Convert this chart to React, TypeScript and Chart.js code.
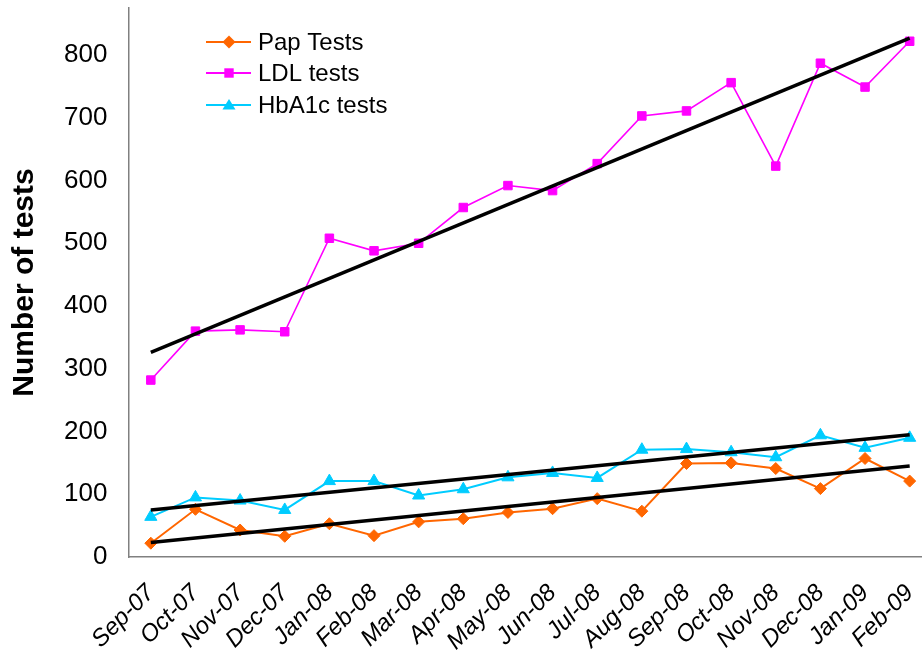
import React, { useEffect, useRef } from 'react';
import { Chart, registerables } from 'chart.js';

Chart.register(...registerables);

const months = ['Sep-07', 'Oct-07', 'Nov-07', 'Dec-07', 'Jan-08', 'Feb-08', 'Mar-08', 'Apr-08', 'May-08', 'Jun-08', 'Jul-08', 'Aug-08', 'Sep-08', 'Oct-08', 'Nov-08', 'Dec-08', 'Jan-09', 'Feb-09'];
const papTests = [22, 76, 43, 33, 53, 34, 56, 61, 71, 77, 93, 73, 149, 150, 141, 109, 157, 121];
const ldlTests = [282, 360, 362, 359, 508, 488, 500, 557, 592, 584, 627, 703, 711, 756, 623, 787, 749, 822];
const hba1cTests = [64, 95, 90, 75, 121, 121, 98, 108, 127, 134, 126, 171, 172, 167, 159, 194, 174, 190];
// linear trend lines: value at first and last month
const papTrend = [23, 145];
const ldlTrend = [326, 827];
const hba1cTrend = [75, 195];
const yTicks = [0, 100, 200, 300, 400, 500, 600, 700, 800];

const FONT = '"Liberation Sans", Arial, sans-serif';

const seriesStyles = [
  { label: 'Pap Tests', color: '#FF6600', shape: 'diamond' },
  { label: 'LDL tests', color: '#FF00FF', shape: 'square' },
  { label: 'HbA1c tests', color: '#00CCFF', shape: 'triangle' },
];

function drawMarker(ctx: CanvasRenderingContext2D, shape: string, x: number, y: number) {
  ctx.beginPath();
  if (shape === 'diamond') {
    const r = 6.5;
    ctx.moveTo(x - r, y); ctx.lineTo(x, y - r); ctx.lineTo(x + r, y); ctx.lineTo(x, y + r);
  } else if (shape === 'square') {
    const s = 4.7;
    ctx.rect(x - s, y - s, 2 * s, 2 * s);
  } else {
    const r = 7.5;
    ctx.moveTo(x, y - r * 0.8); ctx.lineTo(x + r * 0.87, y + r * 0.6); ctx.lineTo(x - r * 0.87, y + r * 0.6);
  }
  ctx.closePath();
  ctx.fill();
}

const legendPlugin = {
  id: 'insideLegend',
  afterDraw(chart: any) {
    const ctx = chart.ctx as CanvasRenderingContext2D;
    ctx.save();
    const rows = [42, 73, 105];
    seriesStyles.forEach((s, i) => {
      const y = rows[i];
      ctx.strokeStyle = s.color;
      ctx.fillStyle = s.color;
      ctx.lineWidth = 2;
      ctx.beginPath();
      ctx.moveTo(206, y);
      ctx.lineTo(251, y);
      ctx.stroke();
      drawMarker(ctx, s.shape, 229, y);
      ctx.fillStyle = '#000';
      ctx.font = `24px ${FONT}`;
      ctx.textBaseline = 'middle';
      ctx.textAlign = 'left';
      ctx.fillText(s.label, 258, y + 1);
    });
    ctx.restore();
  },
};

export default function App() {
  const ref = useRef<HTMLCanvasElement | null>(null);

  useEffect(() => {
    if (!ref.current) return;
    const first = months[0];
    const last = months[months.length - 1];
    const trend = (vals: number[]) => ({
      type: 'line' as const,
      data: [{ x: first, y: vals[0] }, { x: last, y: vals[1] }],
      borderColor: '#000',
      borderWidth: 3.5,
      pointRadius: 0,
      pointHoverRadius: 0,
      order: 0,
    });
    const chart = new Chart(ref.current, {
      type: 'line',
      data: {
        labels: months,
        datasets: [
          trend(ldlTrend),
          trend(hba1cTrend),
          trend(papTrend),
          {
            label: seriesStyles[0].label,
            data: papTests,
            borderColor: seriesStyles[0].color,
            backgroundColor: seriesStyles[0].color,
            borderWidth: 2,
            pointStyle: 'rectRot',
            pointRadius: 6,
            pointBorderWidth: 1,
            order: 1,
          },
          {
            label: seriesStyles[1].label,
            data: ldlTests,
            borderColor: seriesStyles[1].color,
            backgroundColor: seriesStyles[1].color,
            borderWidth: 1.6,
            pointStyle: 'rect',
            pointRadius: 6,
            pointBorderWidth: 1,
            order: 1,
          },
          {
            label: seriesStyles[2].label,
            data: hba1cTests,
            borderColor: seriesStyles[2].color,
            backgroundColor: seriesStyles[2].color,
            borderWidth: 2,
            pointStyle: 'triangle',
            pointRadius: 7,
            pointBorderWidth: 1,
            order: 1,
          },
        ],
      },
      options: {
        responsive: false,
        animation: false,
        events: [],
        layout: { padding: { top: 6, right: 7, left: 0, bottom: 0 } },
        plugins: {
          legend: { display: false },
          tooltip: { enabled: false },
          title: { display: false },
        },
        scales: {
          x: {
            type: 'category',
            offset: true,
            grid: { display: false, drawTicks: false },
            border: { display: true, color: '#808080', width: 1.5 },
            ticks: {
              autoSkip: false,
              maxRotation: 45,
              minRotation: 45,
              padding: 22,
              color: '#000',
              font: { family: FONT, size: 24, style: 'italic' },
            },
            afterFit: (s: any) => {
              s.height = 95;
              s.paddingLeft = 0;
              s.paddingRight = 0;
              s.paddingTop = 0;
              s.paddingBottom = 0;
            },
          },
          y: {
            min: 0,
            max: 875,
            grid: { display: false, drawTicks: false },
            border: { display: true, color: '#808080', width: 1.5 },
            afterBuildTicks: (s: any) => { s.ticks = yTicks.map((v) => ({ value: v })); },
            ticks: {
              padding: 21,
              color: '#000',
              font: { family: FONT, size: 26 },
            },
            title: {
              display: true,
              text: 'Number of tests',
              color: '#000',
              font: { family: FONT, size: 30, weight: 'bold' },
              padding: { top: 7, bottom: 0 },
            },
            afterFit: (s: any) => {
              s.width = 128.5;
              s.paddingTop = 0;
              s.paddingBottom = 0;
              s.paddingLeft = 0;
              s.paddingRight = 0;
            },
          },
        },
      },
      plugins: [legendPlugin],
    });
    return () => chart.destroy();
  }, []);

  return (
    <div style={{ position: 'fixed', left: 0, top: 0, width: 922, height: 652, overflow: 'hidden', background: '#fff' }}>
      <canvas ref={ref} width={940} height={652} style={{ display: 'block' }} />
    </div>
  );
}
